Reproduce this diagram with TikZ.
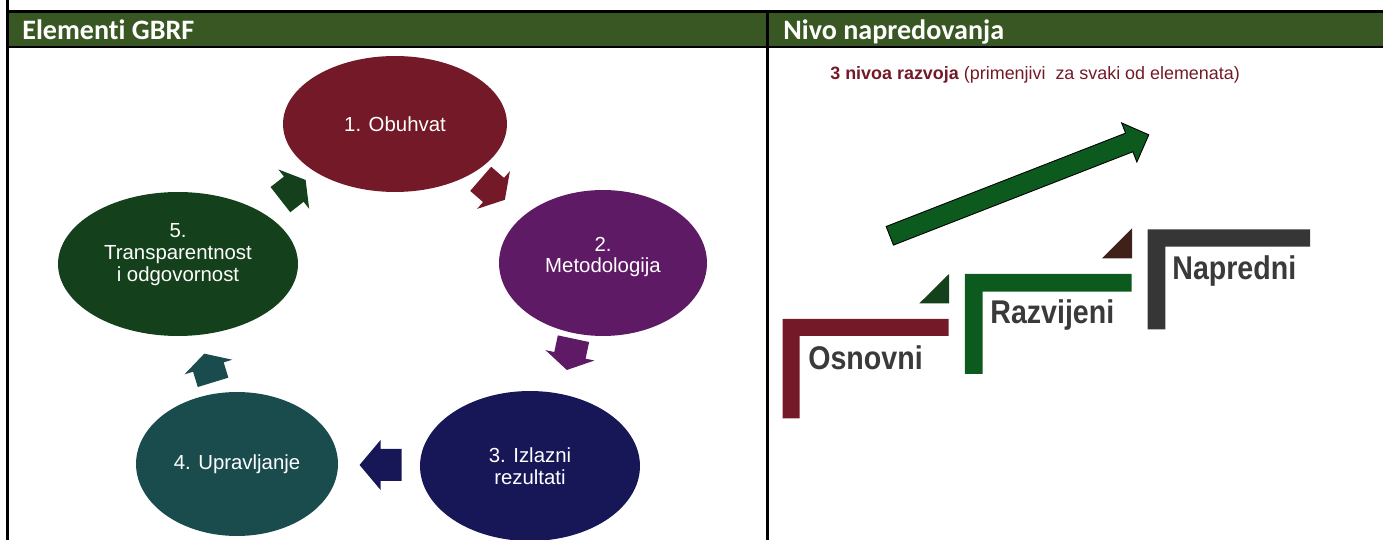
\documentclass[tikz,border=0pt]{standalone}
\usepackage{fontspec}
\setmainfont{Liberation Sans}
\newfontfamily\headfont[RawFeature=-liga]{Carlito}
\newfontfamily\levelfont[FakeStretch=0.87]{Liberation Sans}
\usetikzlibrary{shapes.geometric,calc}
\definecolor{hdrgreen}{RGB}{56,87,35}
\definecolor{cobuhvat}{RGB}{115,25,39}
\definecolor{cmetod}{RGB}{94,26,100}
\definecolor{cizlaz}{RGB}{23,23,87}
\definecolor{cupravlj}{RGB}{26,75,77}
\definecolor{ctransp}{RGB}{21,64,28}
\definecolor{arrgreen}{RGB}{12,90,30}
\definecolor{cbrown}{RGB}{64,33,26}
\definecolor{cgray}{RGB}{54,54,54}
\definecolor{ctext}{RGB}{58,58,58}
\begin{document}
\begin{tikzpicture}[x=0.02cm, y=-0.02cm,
  elem node/.style={ellipse, inner sep=0pt, text=white, align=center, font=\fontsize{11.6}{12.5}\selectfont},
  elem text/.style={inner sep=0pt, text=white, align=center, font=\fontsize{11.6}{12.5}\selectfont},
  head node/.style={anchor=base west, inner sep=0pt, text=white, font=\headfont\bfseries\fontsize{16}{18}\selectfont},
  level node/.style={anchor=base west, inner sep=0pt, text=ctext, font=\levelfont\bfseries\fontsize{18.7}{22}\selectfont},
  pics/cyc arrow/.style 2 args={code={
    \fill[pic actions] (-#1,-16) -- ({#1-#2},-16) -- ({#1-#2},-25) -- (#1,0) -- ({#1-#2},25) -- ({#1-#2},16) -- (-#1,16) -- cycle;}}]
  \useasboundingbox (0,0) rectangle (1383,540);

  % table
  \fill[hdrgreen] (7.5,11.5) rectangle (1383,47);
  \draw[line width=1.2pt] (7.5,0) -- (7.5,540);
  \draw[line width=1.2pt] (7.5,11.5) -- (1383,11.5);
  \draw[line width=1.2pt] (7.5,47) -- (1383,47);
  \draw[line width=1.2pt] (767.5,11.5) -- (767.5,540);
  \node[head node] (elementi) at (22,40) {Elementi GBRF};
  \node[head node] (nivo) at (783,40) {Nivo napredovanja};

  % ciklus
  \node[elem node, fill=cobuhvat, minimum width=4.48cm, minimum height=2.72cm] (obuhvat) at (395,124) {1. Obuhvat};
  \node[elem node, fill=cmetod, minimum width=4.16cm, minimum height=2.92cm] (metod) at (603,263) {};
  \node[elem text] (metod text) at ([yshift=0.12cm]metod.center) {2.\\Metodologija};
  \node[elem node, fill=cizlaz, minimum width=4.4cm, minimum height=3cm] (izlaz) at (530,466) {3. Izlazni\\rezultati};
  \node[elem node, fill=cupravlj, minimum width=4.04cm, minimum height=2.88cm] (upravlj) at (237,464) {4. Upravljanje};
  \node[elem node, fill=ctransp, minimum width=4.8cm, minimum height=2.88cm] (transp) at (178,264) {};
  \node[elem text] (transp text) at ([yshift=0.18cm]transp.center) {5.\\Transparentnost\\i odgovornost};

  \pic[fill=cobuhvat, rotate=-41] at ($(obuhvat)!0.47!(metod)$) {cyc arrow={16}{15}};
  \pic[fill=cmetod, rotate=-102] at ($(metod)!0.45!(izlaz)$) {cyc arrow={16}{15}};
  \pic[fill=cizlaz, rotate=180] at ($(izlaz)!0.51!(upravlj)$) {cyc arrow={21}{21}};
  \pic[fill=cupravlj, rotate=107] at ($(upravlj)!0.48!(transp)$) {cyc arrow={15}{14}};
  \pic[fill=ctransp, rotate=38] at ($(transp)!0.53!(obuhvat)$) {cyc arrow={16}{15}};

  % nivoi
  \node[anchor=base west, inner sep=0pt, text=cobuhvat, font=\fontsize{10.2}{12}\selectfont] (naslov) at (830,80) {\textbf{3 nivoa razvoja} (primenjivi\ \ za svaki od elemenata)};

  \draw[fill=arrgreen, line width=0.5pt, shift={(889.8,235.8)}, rotate=21.3] (0,-10) -- (257,-10) -- (257,-21) -- (278,0) -- (257,21) -- (257,10) -- (0,10) -- cycle;

  \fill[cobuhvat] (782.6,319) -- (948.7,319) -- (948.7,336) -- (799.6,336) -- (799.6,418.3) -- (782.6,418.3) -- cycle;
  \fill[arrgreen] (964.9,274) -- (1131.7,274) -- (1131.7,291.7) -- (982.6,291.7) -- (982.6,374) -- (964.9,374) -- cycle;
  \fill[cgray] (1147.5,229.3) -- (1310,229.3) -- (1310,246.7) -- (1165.3,246.7) -- (1165.3,329.3) -- (1147.5,329.3) -- cycle;
  \fill[ctransp] (919.4,303.3) -- (949,303.3) -- (949,274) -- cycle;
  \fill[cbrown] (1102,258.3) -- (1132,258.3) -- (1132,228.3) -- cycle;

  \node[level node] (osnovni) at (808,369.3) {Osnovni};
  \node[level node] (razvijeni) at (990,323.3) {Razvijeni};
  \node[level node] (napredni) at (1172,279.3) {Napredni};
\end{tikzpicture}
\end{document}
